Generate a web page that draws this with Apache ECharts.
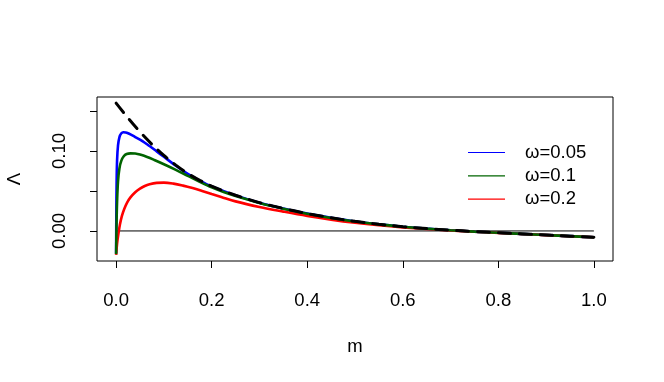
<!DOCTYPE html>
<html><head><meta charset="utf-8">
<script src="https://cdn.jsdelivr.net/npm/echarts@6/dist/echarts.min.js"></script>
<style>html,body{margin:0;padding:0;background:#fff}#c{width:664px;height:382px}</style>
</head><body><div id="c"></div>
<script>
const xTicks = [0, 0.2, 0.4, 0.6, 0.8, 1.0];
const yTicks = [0, 0.05, 0.1, 0.15];
const yLabelTicks = [0, 0.1];
const seriesNames = ['ω=0.05', 'ω=0.1', 'ω=0.2'];
const seriesColors = ['#0000ff', '#006400', '#ff0000'];
const seriesZ = [3, 5, 4];

// omega -> 0 limit (dashed black)
const mLimit = [0, 0.025, 0.05, 0.075, 0.1, 0.125, 0.15, 0.175, 0.2, 0.225, 0.25, 0.275, 0.3, 0.35, 0.4, 0.45, 0.5, 0.55, 0.6, 0.65, 0.7, 0.75, 0.8, 0.85, 0.9, 0.95, 1.0];
const vLimit = [0.160, 0.1413, 0.1240, 0.1084, 0.0945, 0.0824, 0.0720, 0.0633, 0.0560, 0.0500, 0.0447, 0.0399, 0.0355, 0.0282, 0.0218, 0.0165, 0.0120, 0.0083, 0.0054, 0.0030, 0.0010, -0.0007, -0.0022, -0.0037, -0.0051, -0.0065, -0.0079];

const mW005 = [0, 0.0005, 0.001, 0.002, 0.004, 0.007, 0.011, 0.015, 0.02, 0.025, 0.03, 0.04, 0.055, 0.07, 0.085, 0.1, 0.125, 0.15, 0.175, 0.2, 0.25, 0.3, 0.35, 0.4, 0.45, 0.5, 0.55, 0.6, 0.65, 0.7, 0.75, 0.8, 0.85, 0.9, 0.95, 1.0];
const vW005 = [-0.028, 0.025, 0.058, 0.088, 0.107, 0.1175, 0.1222, 0.1235, 0.1232, 0.1222, 0.1208, 0.1175, 0.1125, 0.1062, 0.0995, 0.0928, 0.0815, 0.0713, 0.0628, 0.0556, 0.0445, 0.0354, 0.0281, 0.0217, 0.0164, 0.0119, 0.0082, 0.0053, 0.0029, 0.0009, -0.0008, -0.0023, -0.0037, -0.0051, -0.0065, -0.0079];

const mW01 = [0, 0.001, 0.002, 0.004, 0.007, 0.011, 0.016, 0.022, 0.03, 0.04, 0.05, 0.065, 0.08, 0.1, 0.125, 0.15, 0.175, 0.2, 0.225, 0.25, 0.3, 0.35, 0.4, 0.45, 0.5, 0.55, 0.6, 0.65, 0.7, 0.75, 0.8, 0.85, 0.9, 0.95, 1.0];
const vW01 = [-0.029, 0.012, 0.036, 0.062, 0.0785, 0.0880, 0.0935, 0.0962, 0.0971, 0.0968, 0.0955, 0.0925, 0.0888, 0.0835, 0.0765, 0.0690, 0.0615, 0.0545, 0.0487, 0.0437, 0.0350, 0.0279, 0.0216, 0.0163, 0.0119, 0.0082, 0.0053, 0.0029, 0.0009, -0.0008, -0.0023, -0.0037, -0.0051, -0.0065, -0.0079];

const mW02 = [0, 0.002, 0.005, 0.008, 0.012, 0.017, 0.023, 0.03, 0.04, 0.05, 0.06, 0.07, 0.085, 0.1, 0.12, 0.14, 0.16, 0.18, 0.2, 0.22, 0.25, 0.3, 0.35, 0.4, 0.45, 0.5, 0.55, 0.6, 0.65, 0.7, 0.75, 0.8, 0.85, 0.9, 0.95, 1.0];
const vW02 = [-0.030, -0.016, -0.003, 0.008, 0.0185, 0.0275, 0.0355, 0.0420, 0.0485, 0.0530, 0.0563, 0.0585, 0.0602, 0.0605, 0.0592, 0.0567, 0.0536, 0.0500, 0.0462, 0.0425, 0.0370, 0.0300, 0.0242, 0.0188, 0.0142, 0.0103, 0.0071, 0.0045, 0.0024, 0.0006, -0.0010, -0.0024, -0.0038, -0.0052, -0.0066, -0.0079];

const zeroLine = [[0, 0], [1, 0]];

const zip = (a, b) => a.map((x, i) => [x, b[i]]);
const FONT = 'Liberation Sans, Arial, Helvetica, sans-serif';
const FS = 18.5;

const chart = echarts.init(document.getElementById('c'), null, {renderer: 'canvas'});
const colored = [[mW005, vW005], [mW01, vW01], [mW02, vW02]].map((d, i) => ({
  name: seriesNames[i], type: 'line', data: zip(d[0], d[1]), showSymbol: false, symbol: 'none',
  smooth: 0.35, silent: true, animation: false,
  lineStyle: {color: seriesColors[i], width: 2.6}, itemStyle: {color: seriesColors[i]}, z: seriesZ[i]
}));

chart.setOption({
  animation: false,
  backgroundColor: '#fff',
  textStyle: {fontFamily: FONT},
  grid: {left: 97, right: 51, top: 97, bottom: 121, show: true, borderColor: '#000', borderWidth: 1,
         backgroundColor: 'transparent', containLabel: false, outerBoundsMode: 'none'},
  legend: {
    data: seriesNames, orient: 'vertical', left: 463, top: 138, itemWidth: 37, itemHeight: 1.2, itemGap: 4.3,
    icon: 'rect', textStyle: {fontSize: FS, color: '#000', fontFamily: FONT, padding: [0, 0, 0, 15]},
    selectedMode: false
  },
  xAxis: {
    type: 'value', min: -0.04, max: 1.04,
    name: 'm', nameLocation: 'middle', nameGap: 76, nameTextStyle: {fontSize: FS, color: '#000', fontFamily: FONT},
    axisLine: {show: false, onZero: false}, splitLine: {show: false},
    axisTick: {show: true, inside: false, length: 7, lineStyle: {color: '#000', width: 1}, customValues: xTicks},
    axisLabel: {show: true, margin: 30, fontSize: FS, color: '#000', fontFamily: FONT, customValues: xTicks, formatter: v => v.toFixed(1)}
  },
  yAxis: {
    type: 'value', min: -0.0376, max: 0.1676,
    name: 'Λ', nameLocation: 'middle', nameGap: 73, nameRotate: 90, nameTextStyle: {fontSize: FS, color: '#000', fontFamily: FONT},
    axisLine: {show: false, onZero: false}, splitLine: {show: false},
    axisTick: {show: true, inside: false, length: 7, lineStyle: {color: '#000', width: 1}, customValues: yTicks},
    axisLabel: {show: true, rotate: 90, margin: 28, fontSize: FS, color: '#000', fontFamily: FONT, customValues: yLabelTicks, formatter: v => v.toFixed(2)}
  },
  series: [
    {name: 'zero', type: 'line', data: zeroLine, showSymbol: false, symbol: 'none', silent: true,
     lineStyle: {color: '#000', width: 1}, z: 2},
    ...colored,
    {name: 'limit', type: 'line', data: zip(mLimit, vLimit), showSymbol: false, symbol: 'none', silent: true,
     smooth: 0.35,
     lineStyle: {color: '#000', width: 3, type: [12, 9], cap: 'round'}, z: 10}
  ]
});
</script>
</body></html>
